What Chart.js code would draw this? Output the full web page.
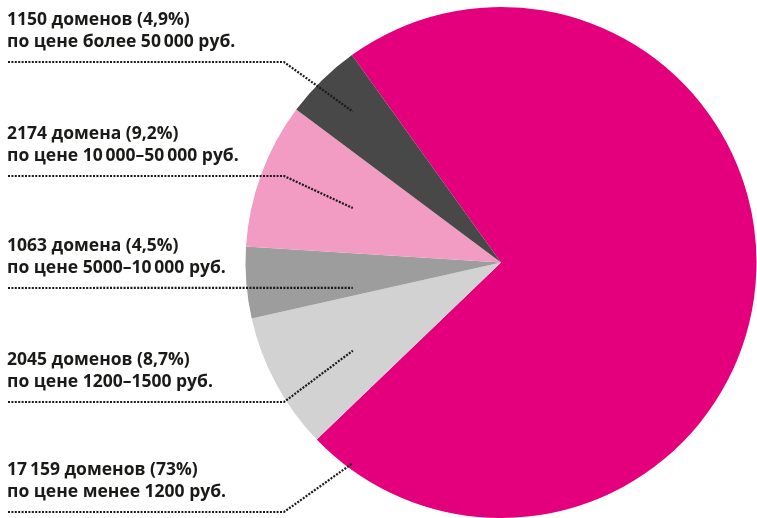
<!DOCTYPE html>
<html>
<head>
<meta charset="utf-8">
<script src="https://cdn.jsdelivr.net/npm/chart.js@4"></script>
<style>
  html, body { margin: 0; padding: 0; background: #fff; overflow: hidden; }
  #wrap { position: relative; width: 757px; height: 518px; }
</style>
</head>
<body>
<div id="wrap"><canvas id="pie-domains"></canvas></div>
<script>
// clockwise from the top-left edge of the big slice
const counts = [17159, 2045, 1063, 2174, 1150];
const countText = ["17\u2009159", "2045", "1063", "2174", "1150"];
const nouns = ["доменов", "доменов", "домена", "домена", "доменов"];
const shares = ["73%", "8,7%", "4,5%", "9,2%", "4,9%"];
const priceRanges = [
    "по цене менее 1200 руб.",
    "по цене 1200–1500 руб.",
    "по цене 5000–10\u2009000 руб.",
    "по цене 10\u2009000–50\u2009000 руб.",
    "по цене более 50\u2009000 руб."
];
const colors = ["#e4007c", "#d1d2d1", "#9d9d9d", "#f29cc3", "#484848"];

// labels are listed top to bottom on the left, i.e. reverse of the slice order
const calloutY = [512, 402, 288, 176, 62];
const leaderPos = [0.963, 0.42, 0.18, 0.5, 0.5]; // where inside each slice the leader ends

const callouts = {
    id: 'callouts',
    afterDatasetsDraw(chart) {
        const ctx = chart.ctx;
        const arcs = chart.getDatasetMeta(0).data;
        ctx.save();
        arcs.forEach(function(arc, i) {
            const endX = arc.x - 0.58 * arc.outerRadius;
            const a = arc.startAngle + (arc.endAngle - arc.startAngle) * leaderPos[i];
            const t = (endX - arc.x) / Math.cos(a);
            const endY = arc.y + Math.sin(a) * t;
            const y = calloutY[i];

            ctx.strokeStyle = "#1a1a18";
            ctx.lineWidth = 2.2;
            ctx.setLineDash([2, 1.4]);
            ctx.beginPath();
            ctx.moveTo(8, y);
            if (Math.abs(endY - y) > 3) {
                ctx.lineTo(284, y);
            }
            ctx.lineTo(endX, endY);
            ctx.stroke();

            ctx.setLineDash([]);
            ctx.fillStyle = "#1a1a18";
            ctx.font = "bold 17.5px 'Open Sans'";
            ctx.textBaseline = "alphabetic";
            ctx.textAlign = "left";
            ctx.fillText(countText[i] + " " + nouns[i] + " (" + shares[i] + ")", 7, y - 37);
            ctx.fillText(priceRanges[i], 7, y - 15);
        });
        ctx.restore();
    }
};

new Chart(document.getElementById("pie-domains"), {
    type: 'pie',
    data: {
        labels: priceRanges,
        datasets: [{
            data: counts,
            backgroundColor: colors,
            borderWidth: 0
        }]
    },
    options: {
        responsive: true,
        maintainAspectRatio: false,
        animation: false,
        events: [],
        rotation: -35.7,
        layout: { padding: { left: 245, top: 7, right: 0, bottom: 0 } },
        plugins: {
            legend: { display: false },
            tooltip: { enabled: false }
        }
    },
    plugins: [callouts]
});
</script>
</body>
</html>
